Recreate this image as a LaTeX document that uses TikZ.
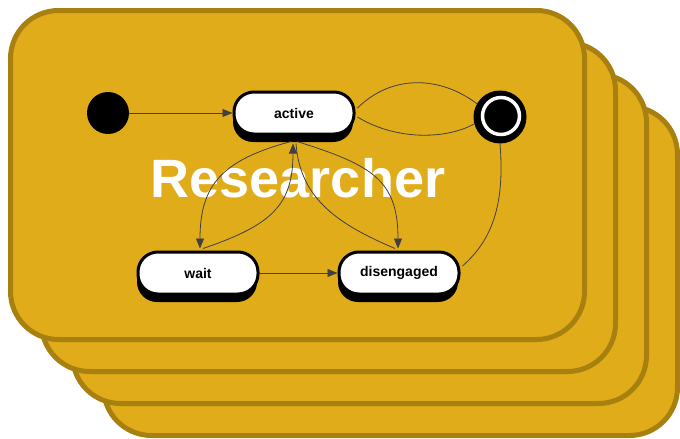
\documentclass[tikz,border=0pt]{standalone}
\usepackage{fontspec}
\setmainfont{Liberation Sans}
\usetikzlibrary{arrows.meta,shadows}
\definecolor{cardfill}{RGB}{224,172,26}
\definecolor{cardline}{RGB}{168,128,16}
\tikzset{
  card/.style={draw=cardline, fill=cardfill, line width=5pt, rounded corners=48pt},
  state/.style={draw=black, fill=white, line width=3pt, rounded corners=20pt,
    minimum width=120pt, minimum height=42pt,
    font=\fontsize{14}{16}\selectfont\bfseries,
    drop shadow={shadow xshift=-1pt, shadow yshift=-8pt, opacity=1, fill=black}},
  trans/.style={draw=black!75, line width=0.8pt},
  arr/.style={trans, -{Triangle[length=10pt,width=8pt]}},
}
\begin{document}
\begin{tikzpicture}[x=1pt,y=-1pt]
      \useasboundingbox (0,0) rectangle (680,439);
      % stack of cards, back to front
      \foreach \i in {3,2,1,0}
        \draw[card] ({10.5+31*\i},{10.5+32*\i}) rectangle +(574,329);
      \node[white, font=\fontsize{54}{60}\selectfont\bfseries] (title) at (298,178) {Researcher};
      \draw
        (108,113) node[circle, fill=black, minimum size=42pt, inner sep=0pt] (init){}
        (294,113) node[state] (active){active}
        (198,273) node[state] (wait){wait}
        (399,273) node[state] (disengaged){disengaged}
        (500,117) node[circle, fill=black, minimum size=53pt, inner sep=0pt] (final){};
      \draw[white, line width=3.5pt] ([xshift=1pt,yshift=1pt]final.center) circle (18.5pt);
      \begin{scope}
        \draw[arr] (init) -- (active);
        \draw[arr] (wait) -- (disengaged);
        \draw[arr] ([xshift=-3pt,yshift=-6pt]active.south) .. controls (222,160) and (200,185) .. ([xshift=2pt,yshift=2pt]wait.north);
        \draw[arr] ([xshift=5pt,yshift=2pt]wait.north) .. controls (272,225) and (293,205) .. ([xshift=-1pt,yshift=-8pt]active.south);
        \draw[arr] ([xshift=3pt,yshift=-6pt]active.south) .. controls (372,165) and (398,180) .. ([xshift=-1pt,yshift=2pt]disengaged.north);
        \draw[trans] ([xshift=-4pt,yshift=2pt]disengaged.north) .. controls (340,225) and (300,200) .. ([xshift=2pt,yshift=-8pt]active.south);
        \draw[trans] ([xshift=2pt,yshift=5pt]active.east) .. controls (392,74) and (440,76) .. (final.150);
        \draw[trans] ([xshift=2pt,yshift=-4pt]active.east) .. controls (395,140) and (445,140) .. (final.195);
        \draw[trans] (final.south) .. controls (505,205) and (492,240) .. ([xshift=2pt,yshift=7pt]disengaged.east);
      \end{scope}
    \end{tikzpicture}
\end{document}
